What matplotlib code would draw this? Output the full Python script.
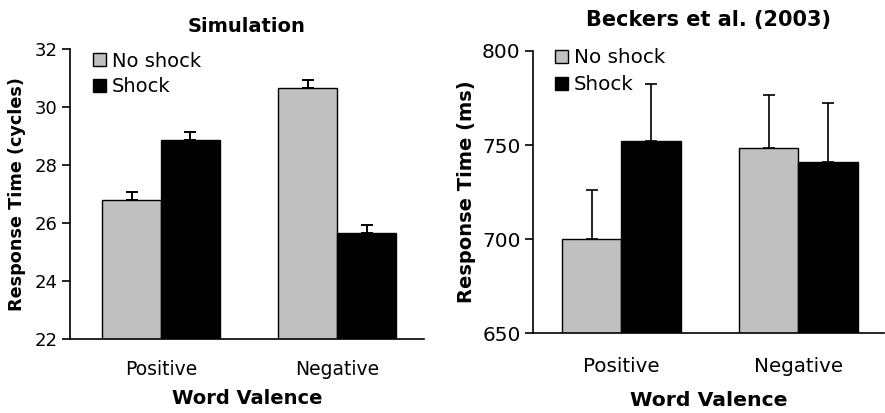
import matplotlib
matplotlib.use("Agg")
import matplotlib.pyplot as plt
import numpy as np

plt.rcParams['font.family'] = ['DejaVu Sans']

categories = ["Positive", "Negative"]
series_names = ["No shock", "Shock"]

sim_noshock = [26.8, 30.65]
sim_shock = [28.87, 25.66]
sim_noshock_err = [0.27, 0.27]
sim_shock_err = [0.27, 0.27]

beck_noshock = [700, 748.5]
beck_shock = [752, 741]
beck_noshock_err = [26, 28]
beck_shock_err = [30.6, 31.4]

W, H = 885, 413
fig = plt.figure(figsize=(W / 100, H / 100), dpi=100)

def px_axes(x0, y0, x1, y1):
    return fig.add_axes([x0 / W, (H - y1) / H, (x1 - x0) / W, (y1 - y0) / H])

ax1 = px_axes(70, 49, 424, 339)
ax2 = px_axes(533, 51, 884, 333.3)

gray = "#c0c0c0"
bw = 0.335

def draw(ax, ns, sh, nse, she, ylim, yticks, title, ylabel, xlim,
         fs, tfs, lfs, titfs, xlfs, ylfs, tickpad, xlpad, titpad, ylpad,
         legxy, legsp, capsize, elw):
    x = np.arange(len(categories))
    b1 = ax.bar(x - bw / 2, ns, bw, color=gray, edgecolor="black", linewidth=1.0,
                label=series_names[0], zorder=2)
    b2 = ax.bar(x + bw / 2, sh, bw, color="black", edgecolor="black", linewidth=1.0,
                label=series_names[1], zorder=2)
    ax.errorbar(x - bw / 2, ns, yerr=[np.zeros(len(ns)), nse], fmt="none",
                ecolor="black", elinewidth=elw, capsize=capsize, capthick=elw, zorder=1)
    ax.errorbar(x + bw / 2, sh, yerr=[np.zeros(len(sh)), she], fmt="none",
                ecolor="black", elinewidth=elw, capsize=capsize, capthick=elw, zorder=1)
    ax.set_ylim(*ylim)
    ax.set_xlim(*xlim)
    ax.set_yticks(yticks)
    ax.set_xticks(x)
    ax.set_xticklabels(categories, fontsize=fs)
    ax.tick_params(axis="x", length=0, pad=tickpad)
    ax.tick_params(axis="y", length=6, width=1.2, labelsize=tfs, pad=3)
    for s in ["top", "right"]:
        ax.spines[s].set_visible(False)
    for s in ["left", "bottom"]:
        ax.spines[s].set_linewidth(1.2)
    ax.set_xlabel("Word Valence", fontsize=xlfs, fontweight="bold", labelpad=xlpad)
    ax.set_ylabel(ylabel, fontsize=ylfs, fontweight="bold", labelpad=ylpad)
    ax.set_title(title, fontsize=titfs, fontweight="bold", pad=titpad)
    leg = ax.legend(handles=[b1, b2], loc="upper left", bbox_to_anchor=legxy,
                    frameon=False, fontsize=lfs, handlelength=0.65, handleheight=0.65,
                    handletextpad=0.3, labelspacing=legsp, borderaxespad=0)
    return leg

draw(ax1, sim_noshock, sim_shock, sim_noshock_err, sim_shock_err, (22, 32),
     [22, 24, 26, 28, 30, 32], "Simulation", "Response Time (cycles)",
     (-0.517, 1.494),
     fs=13.5, tfs=13, lfs=14, titfs=14, xlfs=14, ylfs=12.7,
     tickpad=15, xlpad=7, titpad=12, ylpad=6,
     legxy=(0.044, 1.018), legsp=0.34, capsize=4, elw=1.4)
draw(ax2, beck_noshock, beck_shock, beck_noshock_err, beck_shock_err, (650, 800),
     [650, 700, 750, 800], "Beckers et al. (2003)", "Response Time (ms)",
     (-0.498, 1.483),
     fs=14.3, tfs=14.5, lfs=14.3, titfs=15, xlfs=14.7, ylfs=14,
     tickpad=17, xlpad=11, titpad=18, ylpad=4,
     legxy=(0.039, 1.038), legsp=0.41, capsize=4, elw=1.2)

fig.savefig("out.png", dpi=100)
